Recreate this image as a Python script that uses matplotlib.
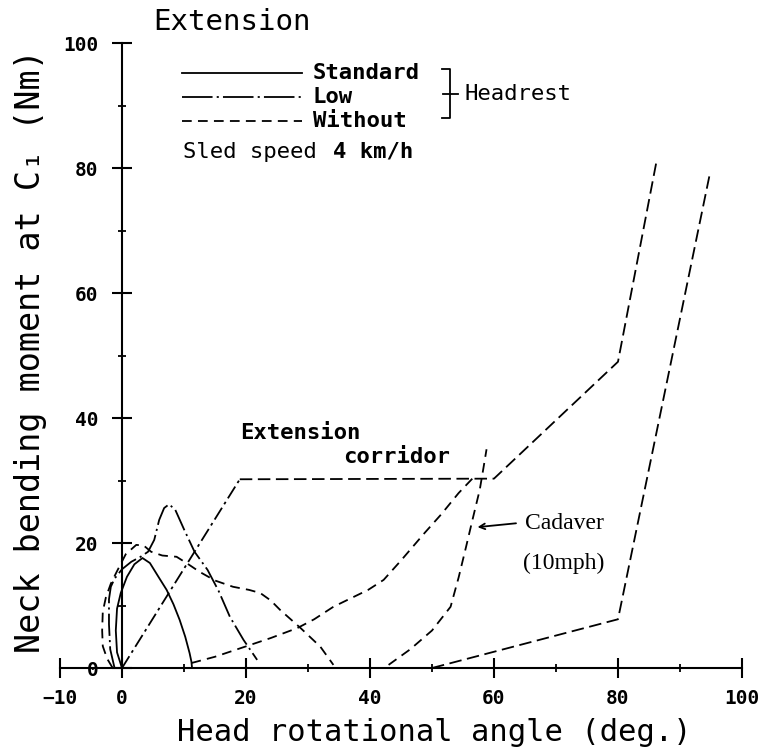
import matplotlib
matplotlib.use('Agg')
import matplotlib.pyplot as plt

plt.rcParams['font.family'] = ['DejaVu Sans Mono', 'DejaVu Sans']
plt.rcParams['lines.scale_dashes'] = False

# Standard headrest (solid)
std_x = [0.0, -0.8, -1.0, -0.8, -0.2, 0.8, 2.0, 3.3, 4.5, 6.0, 7.2, 8.3, 9.3, 10.2, 10.9, 11.2, 11.3]
std_y = [0.0, 2.5, 6.0, 9.5, 12.0, 14.6, 16.6, 17.6, 16.8, 14.4, 12.5, 10.2, 7.7, 5.0, 2.4, 1.0, 0.0]

# Low headrest (dash-dot)
low_x = [-1.2, -1.9, -2.1, -2.1, -1.8, -1.2, 0.0, 1.5, 3.0, 4.2, 5.2, 6.0, 6.8, 7.6, 8.6, 10.0, 11.7, 13.8, 15.6, 17.4, 19.6, 21.8]
low_y = [0.0, 3.0, 7.0, 11.0, 13.0, 14.3, 15.8, 17.0, 17.8, 18.6, 20.5, 23.7, 25.6, 26.2, 25.3, 22.2, 18.6, 15.7, 12.3, 8.2, 4.5, 1.3]

# Without headrest (dashed), two branches
wo1_x = [-1.5, -2.4, -3.1, -3.2, -3.1, -2.6, -1.8, -0.8, 0.6, 2.3, 3.5, 4.7, 6.5, 8.8, 10.4, 12.5, 15.0, 17.9, 20.5, 22.3, 24.0, 25.5, 28.8, 32.0, 34.1]
wo1_y = [0.0, 1.5, 3.5, 6.0, 9.0, 11.3, 13.5, 15.5, 18.2, 19.7, 19.6, 18.6, 18.0, 17.8, 16.8, 15.4, 14.0, 13.0, 12.5, 12.0, 10.8, 9.3, 6.4, 3.4, 0.5]
wo2_x = [11.2, 15.0, 19.8, 24.0, 28.3, 31.0, 34.1, 37.0, 39.7, 42.2, 45.0, 48.8, 51.5, 54.3, 56.7]
wo2_y = [0.8, 1.8, 3.4, 4.8, 6.4, 7.8, 9.8, 11.2, 12.5, 14.1, 17.2, 21.6, 24.6, 28.0, 30.5]

# Cadaver (10mph)
cad_x = [43.0, 46.5, 50.0, 53.0, 54.3, 55.5, 56.6, 57.7, 58.3, 58.8]
cad_y = [0.5, 3.0, 6.0, 9.8, 14.5, 19.4, 24.0, 28.5, 32.0, 35.0]

# Extension corridor
cu_x = [0, 19, 60, 80, 86.2]
cu_y = [0, 30.2, 30.3, 49, 81]
cl_x = [50, 80, 94.8]
cl_y = [0, 7.8, 79]

fig = plt.figure(figsize=(7.64, 7.48), dpi=100)
ax = fig.add_axes([0.0623, 0.0568, 0.9251, 0.9191])
ax.set_xlim(-12, 102)
ax.set_ylim(-6, 104)

lw = 1.3
dash = (0, (7, 4.5))
dashdot = (0, (16, 3, 1.5, 3))
cor = (0, (9, 4))

ax.plot(std_x, std_y, color='black', lw=lw)
ax.plot(low_x, low_y, color='black', lw=lw, linestyle=dashdot)
ax.plot(wo1_x, wo1_y, color='black', lw=lw, linestyle=dash)
ax.plot(wo2_x, wo2_y, color='black', lw=lw, linestyle=dash)
ax.plot(cad_x, cad_y, color='black', lw=lw, linestyle=dash)
ax.plot(cu_x[:2], cu_y[:2], color='black', lw=lw, linestyle=(0, (10, 3, 2, 3)))
ax.plot(cu_x[1:], cu_y[1:], color='black', lw=lw, linestyle=cor)
ax.plot(cl_x, cl_y, color='black', lw=lw, linestyle=cor)

# axes through zero
for s in ['top', 'right']:
    ax.spines[s].set_visible(False)
ax.spines['left'].set_position(('data', 0))
ax.spines['bottom'].set_position(('data', 0))
ax.spines['left'].set_bounds(0, 100)
ax.spines['bottom'].set_bounds(-10, 100)
ax.spines['left'].set_linewidth(1.5)
ax.spines['bottom'].set_linewidth(1.5)

ax.set_xticks([-10, 0, 20, 40, 60, 80, 100])
ax.set_xticks([10, 30, 50, 70, 90], minor=True)
ax.set_yticks([0, 20, 40, 60, 80, 100])
ax.set_yticks([10, 30, 50, 70, 90], minor=True)
ax.tick_params(which='major', direction='inout', length=14, width=1.5, labelsize=14)
ax.tick_params(which='minor', direction='inout', length=6, width=1.3)
ax.tick_params(axis='x', which='major', pad=8)
ax.tick_params(axis='y', which='major', pad=10)
for t in ax.get_xticklabels() + ax.get_yticklabels():
    t.set_fontweight('bold')

fig.text(0.569, 0.010, 'Head rotational angle (deg.)', fontsize=22, ha='center', va='baseline')
fig.text(0.040, 0.53, 'Neck bending moment at C\u2081 (Nm)', fontsize=24, rotation=90,
         ha='center', va='center')
ax.text(17.8, 103.3, 'Extension', fontsize=21, ha='center', va='center')

# legend
leg_y = [95.2, 91.4, 87.5]
leg_names = ['Standard', 'Low', 'Without']
leg_styles = ['-', (0, (22, 3, 1.5, 3)), (0, (7, 4.5))]
for yy, name, st in zip(leg_y, leg_names, leg_styles):
    ax.plot([9.7, 29.0], [yy, yy], color='black', lw=lw, linestyle=st)
    ax.text(30.8, yy, name, fontsize=16, fontweight='bold', va='center')
ax.plot([51.6, 52.9, 52.9, 51.6], [95.8, 95.8, 88.0, 88.0], color='black', lw=1.3)
ax.plot([51.8, 54.2], [91.8, 91.8], color='black', lw=1.3)
ax.text(55.2, 91.8, 'Headrest', fontsize=16, va='center')
ax.text(9.8, 82.6, 'Sled speed', fontsize=16, va='center')
ax.text(34.0, 82.6, '4 km/h', fontsize=16, fontweight='bold', va='center')

# corridor / cadaver labels
ax.text(19.0, 37.6, 'Extension', fontsize=16, fontweight='bold', va='center')
ax.text(35.6, 33.8, 'corridor', fontsize=16, fontweight='bold', va='center')
ax.annotate('', xy=(56.9, 22.5), xytext=(64.0, 23.2),
            arrowprops=dict(arrowstyle='->', color='black', lw=1.3))
ax.text(65.0, 23.2, 'Cadaver', fontsize=17, family='Liberation Serif', va='center')
ax.text(64.7, 16.8, '(10mph)', fontsize=17, family='Liberation Serif', va='center')

fig.savefig('out.png', dpi=100)
